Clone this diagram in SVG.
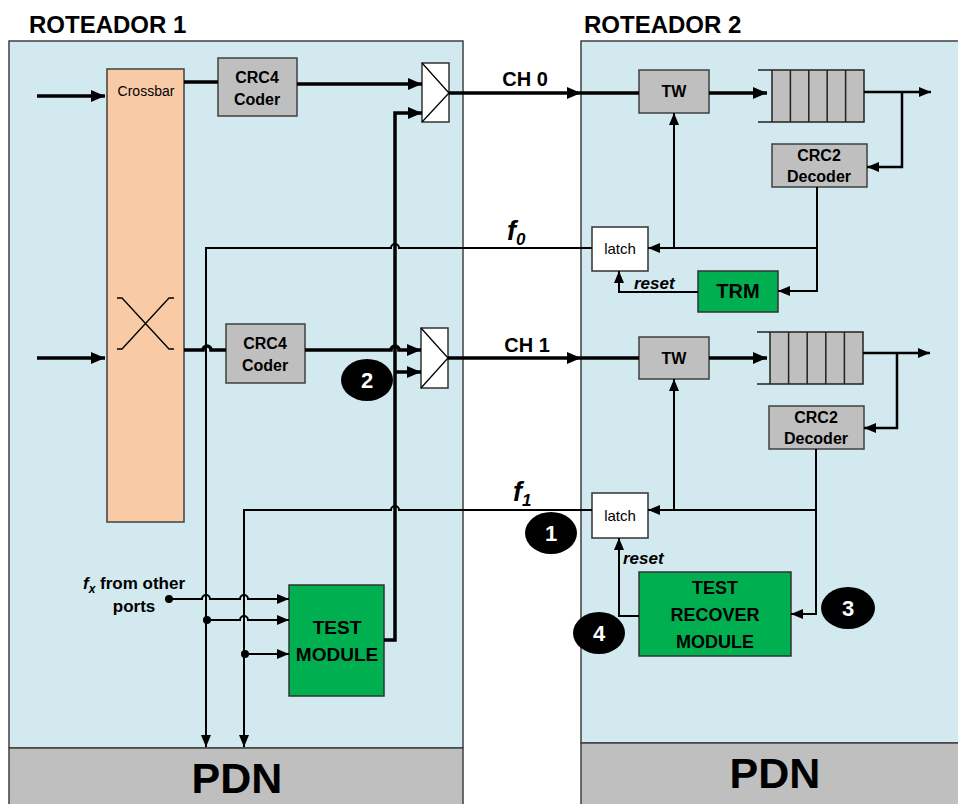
<svg xmlns="http://www.w3.org/2000/svg" width="958" height="804" viewBox="0 0 958 804">
<defs>
<style>
.panel{fill:#D2E9EF;stroke:#404040;stroke-width:1.5}
.pdn{fill:#BFBFBF;stroke:#404040;stroke-width:1.5}
.gray{fill:#BFBFBF;stroke:#404040;stroke-width:1.5}
.green{fill:#00B050;stroke:#333;stroke-width:1.5}
.white{fill:#fff;stroke:#333;stroke-width:1.5}
.thick{fill:none;stroke:#000;stroke-width:3.5}
.thin{fill:none;stroke:#000;stroke-width:2}
.mid{fill:none;stroke:#000;stroke-width:2.5}
text{font-family:"Liberation Sans",Arial,sans-serif;fill:#000}
.b{font-weight:bold}
.box{font-weight:bold;font-size:16px;text-anchor:middle}
.title{font-weight:bold;font-size:24px}
.badge{fill:#000}
.bt{font-weight:bold;font-size:22px;fill:#fff;text-anchor:middle}
.lbl{font-weight:bold;font-style:italic}
</style>
<marker id="ah" markerUnits="userSpaceOnUse" viewBox="0 0 14 12" refX="14" refY="6" markerWidth="14" markerHeight="12" orient="auto"><path d="M0,0 L14,6 L0,12 z" fill="#000"/></marker>
<marker id="at" markerUnits="userSpaceOnUse" viewBox="0 0 12 10" refX="12" refY="5" markerWidth="12" markerHeight="10" orient="auto"><path d="M0,0 L12,5 L0,10 z" fill="#000"/></marker>
</defs>

<g id="roteador1">
<rect class="panel" x="9" y="41" width="454" height="707"/>
<rect class="pdn" x="9" y="748" width="454" height="60"/>
<text class="title" x="29" y="33">ROTEADOR 1</text>
<text class="b" x="237" y="793" font-size="43" text-anchor="middle">PDN</text>
</g>
<g id="roteador2">
<rect class="panel" x="581" y="41" width="390" height="702"/>
<rect class="pdn" x="581" y="743" width="390" height="65"/>
<text class="title" x="584" y="33">ROTEADOR 2</text>
<text class="b" x="775" y="788" font-size="43" text-anchor="middle">PDN</text>
</g>

<g id="crossbar">
<rect x="107" y="69" width="77" height="453" fill="#F8CBA6" stroke="#404040" stroke-width="1.5"/>
<text x="146" y="96" font-size="14" text-anchor="middle">Crossbar</text>
<path d="M117,298 L122,298 L169,349 L174,349 M117,349 L122,349 L169,298 L174,298" fill="none" stroke="#000" stroke-width="1.3"/>
</g>

<g id="crc4-coder-0">
<rect class="gray" x="218" y="58" width="79" height="58"/>
<text class="box" x="257" y="83">CRC4</text>
<text class="box" x="257" y="105">Coder</text>
</g>
<g id="crc4-coder-1">
<rect class="gray" x="226" y="324" width="79" height="59"/>
<text class="box" x="265" y="349">CRC4</text>
<text class="box" x="265" y="371">Coder</text>
</g>
<g id="mux-0">
<rect class="white" x="422" y="63" width="27" height="59"/>
<path d="M422,63 L449,93 L422,122" fill="none" stroke="#000" stroke-width="1.3"/>
</g>
<g id="mux-1">
<rect class="white" x="421" y="328" width="27" height="60"/>
<path d="M421,328 L448,358 L421,388" fill="none" stroke="#000" stroke-width="1.3"/>
</g>
<g id="test-module">
<rect class="green" x="289" y="585" width="95" height="111"/>
<text class="b" x="337" y="634" font-size="19" text-anchor="middle">TEST</text>
<text class="b" x="337" y="661" font-size="19" text-anchor="middle">MODULE</text>
</g>
<g id="fx-label">
<text class="b" x="134" y="589" font-size="17" text-anchor="middle"><tspan font-style="italic">f</tspan><tspan font-style="italic" font-size="12" dy="4">x</tspan><tspan dy="-4"> from other</tspan></text>
<text class="b" x="134" y="612" font-size="17" text-anchor="middle">ports</text>
</g>

<g id="tw-0">
<rect class="gray" x="639" y="70" width="70" height="43"/>
<text class="box" x="674" y="97">TW</text>
</g>
<g id="fifo-0">
<rect x="772" y="70" width="92" height="52" fill="#BFBFBF"/>
<path d="M758,70 L864,70 L864,122 L758,122 M772,70 L772,122 M790.4,70 L790.4,122 M808.8,70 L808.8,122 M827.2,70 L827.2,122 M845.6,70 L845.6,122" fill="none" stroke="#222" stroke-width="1.5"/>
</g>
<g id="crc2-decoder-0">
<rect class="gray" x="772" y="144" width="95" height="43"/>
<text class="box" x="819" y="161">CRC2</text>
<text class="box" x="819" y="182">Decoder</text>
</g>
<g id="latch-0">
<rect class="white" x="592" y="227" width="56" height="44"/>
<text x="620" y="254" font-size="15" text-anchor="middle">latch</text>
</g>
<g id="trm">
<rect class="green" x="698" y="271" width="80" height="41"/>
<text class="b" x="738" y="298" font-size="20" text-anchor="middle">TRM</text>
</g>

<g id="tw-1">
<rect class="gray" x="639" y="337" width="70" height="42"/>
<text class="box" x="674" y="364">TW</text>
</g>
<g id="fifo-1">
<rect x="770" y="332" width="93" height="52" fill="#BFBFBF"/>
<path d="M757,332 L863,332 L863,384 L757,384 M770,332 L770,384 M788.6,332 L788.6,384 M807.2,332 L807.2,384 M825.8,332 L825.8,384 M844.4,332 L844.4,384" fill="none" stroke="#222" stroke-width="1.5"/>
</g>
<g id="crc2-decoder-1">
<rect class="gray" x="769" y="406" width="95" height="43"/>
<text class="box" x="816" y="423">CRC2</text>
<text class="box" x="816" y="444">Decoder</text>
</g>
<g id="latch-1">
<rect class="white" x="592" y="493" width="56" height="45"/>
<text x="620" y="521" font-size="15" text-anchor="middle">latch</text>
</g>
<g id="test-recover-module">
<rect class="green" x="639" y="572" width="152" height="84"/>
<text class="b" x="715" y="594" font-size="18" text-anchor="middle">TEST</text>
<text class="b" x="715" y="621" font-size="18" text-anchor="middle">RECOVER</text>
<text class="b" x="715" y="648" font-size="18" text-anchor="middle">MODULE</text>
</g>

<g id="connectors">
<path class="thick" d="M37,96 L105,96" marker-end="url(#ah)"/>
<path class="thick" d="M37,358 L105,358" marker-end="url(#ah)"/>
<path class="thick" d="M184,82 L218,82"/>
<path class="thick" d="M297,84 L422,84" marker-end="url(#ah)"/>
<path class="thick" d="M184,350 L203,350 A4,4 0 0 1 211,350 L226,350"/>
<path class="thick" d="M305,350 L391,350 A4,4 0 0 1 399,350 L421,350" marker-end="url(#ah)"/>
<path class="thick" d="M384,640 L395,640 L395,113 L422,113" marker-end="url(#ah)"/>
<path class="thick" d="M395,372 L421,372" marker-end="url(#ah)"/>
<path class="thick" d="M449,93 L581,93" marker-end="url(#ah)"/>
<path class="thick" d="M581,93 L639,93"/>
<path class="thick" d="M448,358 L581,358" marker-end="url(#ah)"/>
<path class="thick" d="M581,358 L639,358"/>
<path class="thin" d="M592,248 L399,248 A4,4 0 0 0 391,248 L206,248 L206,747" marker-end="url(#at)"/>
<path class="thin" d="M592,510 L399,510 A4,4 0 0 0 391,510 L244,510 L244,747" marker-end="url(#at)"/>
<path class="thin" d="M169,599 L202,599 A4,4 0 0 1 210,599 L240,599 A4,4 0 0 1 248,599 L289,599" marker-end="url(#at)"/>
<path class="thin" d="M207,620 L240,620 A4,4 0 0 1 248,620 L289,620" marker-end="url(#at)"/>
<path class="thin" d="M245,654 L289,654" marker-end="url(#at)"/>
<circle cx="169" cy="599" r="4"/>
<circle cx="207" cy="620" r="4"/>
<circle cx="245" cy="654" r="4"/>
<path class="thick" d="M709,93 L767,93" marker-end="url(#ah)"/>
<path class="mid" d="M864,92 L931,92" marker-end="url(#at)"/>
<path class="mid" d="M902,92 L902,167 L867,167" marker-end="url(#at)"/>
<path class="thin" d="M817,187 L817,291 L778,291" marker-end="url(#at)"/>
<path class="thin" d="M817,248 L648,248" marker-end="url(#at)"/>
<path class="thin" d="M674,248 L674,113" marker-end="url(#at)"/>
<path class="thin" d="M698,292 L619,292 L619,271" marker-end="url(#at)"/>
<path class="thick" d="M709,358 L767,358" marker-end="url(#ah)"/>
<path class="mid" d="M863,353 L930,353" marker-end="url(#at)"/>
<path class="mid" d="M897,353 L897,428 L864,428" marker-end="url(#at)"/>
<path class="thin" d="M816,449 L816,614 L791,614" marker-end="url(#at)"/>
<path class="thin" d="M816,510 L648,510" marker-end="url(#at)"/>
<path class="thin" d="M674,510 L674,379" marker-end="url(#at)"/>
<path class="thin" d="M639,616 L619,616 L619,538" marker-end="url(#at)"/>
</g>

<g id="labels">
<text class="b" x="525" y="86" font-size="20" text-anchor="middle">CH 0</text>
<text class="b" x="527" y="352" font-size="20" text-anchor="middle">CH 1</text>
<text class="lbl" x="507" y="240" font-size="27">f<tspan font-size="17" dy="5">0</tspan></text>
<text class="lbl" x="513" y="501" font-size="27">f<tspan font-size="17" dy="5">1</tspan></text>
<text class="lbl" x="634" y="289" font-size="17">reset</text>
<text class="lbl" x="623" y="564" font-size="17">reset</text>
</g>

<g id="badge-1"><ellipse class="badge" cx="551" cy="533" rx="26" ry="21"/><text class="bt" x="551" y="541">1</text></g>
<g id="badge-2"><ellipse class="badge" cx="367" cy="380" rx="26" ry="21"/><text class="bt" x="367" y="388">2</text></g>
<g id="badge-3"><ellipse class="badge" cx="848" cy="608" rx="27" ry="21"/><text class="bt" x="848" y="616">3</text></g>
<g id="badge-4"><ellipse class="badge" cx="599" cy="633" rx="26" ry="21"/><text class="bt" x="599" y="641">4</text></g>
</svg>
